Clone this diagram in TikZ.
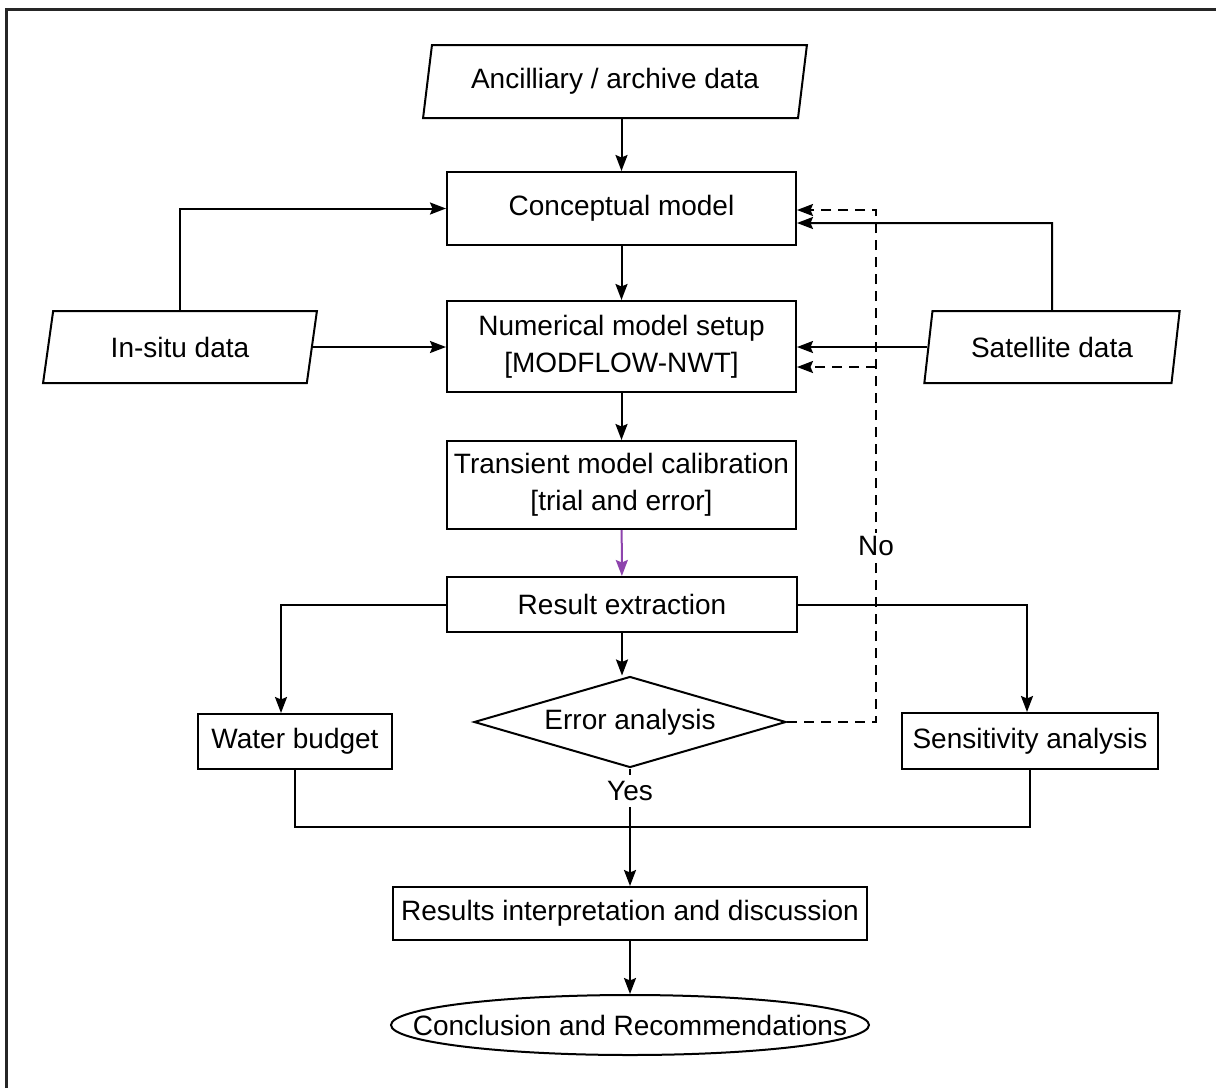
\documentclass[tikz,border=0pt]{standalone}
\usepackage{fontspec}
\setmainfont{Liberation Sans}
\usetikzlibrary{shapes.geometric,arrows.meta}
\definecolor{purp}{RGB}{142,68,173}

\begin{document}
\begin{tikzpicture}[x=1pt,y=-1pt,line width=2pt,>={Stealth[length=16pt,width=12pt,inset=2.5pt]}]
\tikzstyle{every node}+=[inner sep=0pt,font=\fontsize{28}{37}\selectfont]
\tikzstyle{procbox}=[draw,rectangle,align=center]
\tikzstyle{databox}=[draw,trapezium,trapezium left angle=75,trapezium right angle=105,trapezium stretches=true]
\useasboundingbox (0,0) rectangle (1216,1088);
\draw [line width=2.2pt,black!85] (6.5,1088) -- (6.5,9.5) -- (1216,9.5);
\node [databox,minimum width=384pt,minimum height=73pt] (anc) at (615,81.5) {Ancilliary / archive data};
\node [procbox,minimum width=349pt,minimum height=73pt] (cm) at (621.5,208.5) {Conceptual model};
\node [procbox,minimum width=349pt,minimum height=91pt] (nm) at (621.5,346.5) {Numerical model setup\\{[MODFLOW-NWT]}};
\node [procbox,minimum width=349pt,minimum height=88pt] (tr) at (621.5,485) {Transient model calibration\\{[trial and error]}};
\node [procbox,minimum width=350pt,minimum height=55pt] (res) at (622,604.5) {Result extraction};
\node [draw,diamond,aspect=3.5,minimum width=312pt,minimum height=91pt] (err) at (630,722) {Error analysis};
\node [procbox,minimum width=194pt,minimum height=55pt] (wb) at (295,741.5) {Water budget};
\node [procbox,minimum width=256pt,minimum height=56pt] (sa) at (1030,741) {Sensitivity analysis};
\node [inner sep=5pt] (yes) at (630,791) {Yes};
\node [procbox,minimum width=474pt,minimum height=53pt] (ri) at (630,913.5) {Results interpretation and discussion};
\node [minimum width=478pt,minimum height=60pt] (concl) at (630,1025) {Conclusion and Recommendations};
\draw (concl.center) ellipse [x radius=239pt,y radius=30pt];
\node [databox,minimum width=274pt,minimum height=72pt] (is) at (180,347) {In-situ data};
\node [databox,minimum width=256pt,minimum height=72pt] (sat) at (1052,347) {Satellite data};
\coordinate (sc) at (1052,223);
\coordinate (da) at (876,722);
\coordinate (db) at (876,210);
\coordinate (dc) at (876,367);
\coordinate (jn) at (630,827);
\draw [->] (anc.south -| cm.north) -- (cm.north);
\draw [->] (cm) -- (nm);
\draw [->] (nm) -- (tr);
\draw [->,draw=purp] (tr) -- (res);
\draw [->] (res.south) -- (res.south |- err.north);
\draw [->] (is.north) |- (cm.west);
\draw [->] (is.east) -- (is.east -| nm.west);
\draw [->] (sat.north) -- (sc) -- (sc -| cm.east);
\draw [->] (sat.west) -- (sat.west -| nm.east);
\draw [->,dash pattern=on 10pt off 7pt] (err.east) -- (da) -- (db) -- (db -| cm.east);
\draw [->,dash pattern=on 10pt off 7pt] (dc) -- (dc -| nm.east);
\node [fill=white,inner sep=3pt] (no) at (876,546) {No};
\draw [->] (res.west) -| ([xshift=-14pt]wb.north);
\draw [->] (res.east) -| ([xshift=-3pt]sa.north);
\draw (err.south) -- (yes.north);
\draw [->] (yes.south) -- (ri.north);
\draw (wb.south) |- (jn) -| (sa.south);
\draw [->] (ri.south) -- (concl.north);
\end{tikzpicture}
\end{document}
